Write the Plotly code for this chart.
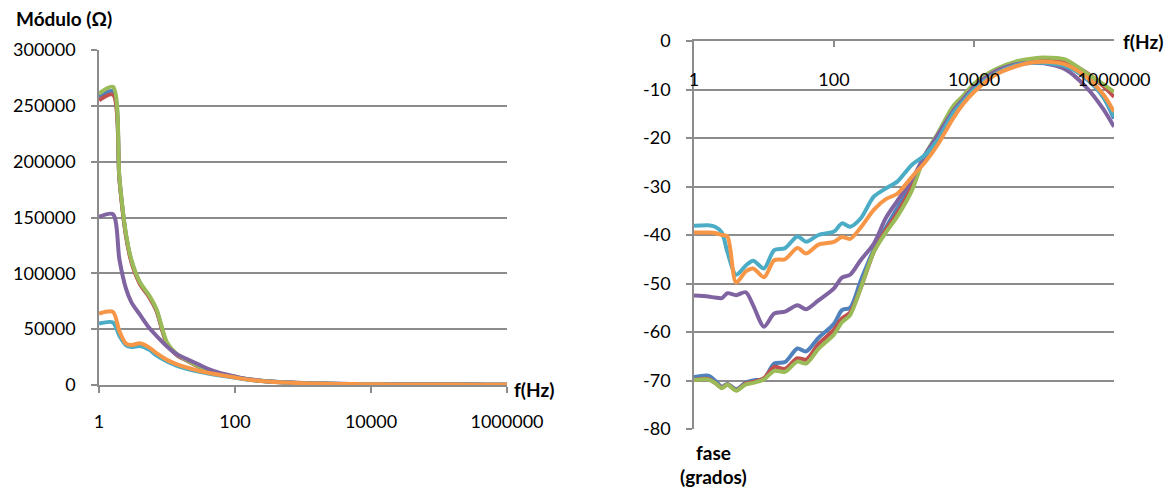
import plotly.graph_objects as go

# Measurement frequencies (Hz)
freq = [1, 1.6, 2, 2.5, 3, 4, 5.5, 7, 10, 14, 20, 30, 40, 60, 100, 130, 170, 240,
        370, 550, 800, 1300, 2000, 3000, 5000, 7000, 10000, 20000, 40000, 70000,
        100000, 200000, 400000, 700000, 1000000]

# Impedance magnitude (ohm) for each sample
mod_s1 = [258000, 263000, 184000, 134000, 111000, 91000, 79000, 67000, 37000, 27000, 21800,
          16300, 13300, 9900, 7300, 5800, 4800, 3800, 2900, 2300, 1900, 1500, 1250, 1050,
          880, 780, 680, 570, 490, 440, 410, 360, 320, 290, 270]
mod_s2 = [255000, 260000, 183000, 133000, 110000, 90500, 78500, 66500, 36500, 26800, 21600,
          16200, 13200, 9800, 7200, 5700, 4700, 3700, 2850, 2250, 1850, 1450, 1200, 1000,
          850, 750, 650, 550, 480, 430, 400, 350, 310, 280, 260]
mod_s3 = [261000, 267000, 185000, 135000, 112000, 92000, 80000, 68000, 38000, 27500, 22000,
          16500, 13500, 10000, 7400, 5900, 4900, 3900, 2950, 2350, 1950, 1550, 1270, 1070,
          900, 790, 690, 580, 500, 450, 420, 370, 330, 300, 280]
mod_s4 = [150500, 153000, 112000, 86000, 74000, 63000, 51000, 44000, 34500, 27500, 23000,
          18000, 14500, 10800, 7600, 6000, 5000, 3900, 3000, 2400, 2000, 1600, 1300, 1100,
          920, 800, 700, 590, 510, 460, 430, 380, 340, 310, 290]
mod_s5 = [55000, 56000, 44000, 35500, 34000, 35000, 31500, 26500, 21000, 17200, 14300,
          11800, 10300, 8500, 6500, 5300, 4400, 3500, 2700, 2150, 1800, 1400, 1150, 980,
          830, 730, 640, 540, 470, 420, 390, 340, 300, 270, 250]
mod_s6 = [64000, 65500, 48000, 37000, 35800, 37300, 33500, 28500, 22500, 18500, 15500,
          12500, 11000, 9000, 6800, 5500, 4500, 3600, 2750, 2200, 1800, 1420, 1170, 1000,
          840, 740, 650, 550, 480, 430, 400, 350, 310, 280, 260]

# Impedance phase (degrees) for each sample
fase_s1 = [-69.3, -69.0, -70.0, -71.3, -70.7, -71.8, -70.4, -70.0, -69.6, -66.5, -66.2,
           -63.4, -64.0, -61.2, -58.3, -55.5, -55.0, -49.5, -43.0, -38.5, -34.5, -29.5,
           -24.0, -19.5, -14.0, -11.5, -9.2, -6.2, -4.8, -4.3, -4.3, -5.0, -7.8, -11.5, -16.0]
fase_s2 = [-69.9, -69.7, -70.5, -71.5, -70.8, -72.0, -70.6, -70.3, -69.5, -67.2, -67.6,
           -65.4, -65.7, -62.5, -59.5, -57.2, -56.0, -51.0, -43.5, -39.0, -35.5, -30.0,
           -23.5, -19.8, -14.2, -11.5, -9.0, -6.0, -4.5, -3.9, -3.8, -4.2, -6.5, -9.3, -11.5]
fase_s3 = [-69.9, -69.8, -70.5, -71.6, -70.9, -72.1, -70.8, -70.5, -69.8, -68.0, -68.2,
           -66.1, -66.5, -63.5, -60.5, -58.0, -56.5, -51.0, -43.5, -39.5, -36.2, -30.8,
           -23.5, -19.2, -13.5, -11.3, -8.8, -5.9, -4.2, -3.6, -3.4, -3.8, -6.6, -8.9, -10.5]
fase_s4 = [-52.5, -52.7, -52.9, -53.0, -52.0, -52.4, -51.8, -54.5, -58.9, -56.2, -55.8,
           -54.5, -55.3, -53.5, -51.0, -48.8, -48.2, -45.2, -41.8, -36.5, -33.0, -28.5,
           -23.5, -19.5, -14.5, -12.0, -9.5, -6.3, -4.8, -4.5, -4.6, -5.8, -9.5, -14.0, -17.7]
fase_s5 = [-38.1, -38.0, -38.3, -39.5, -43.5, -48.2, -46.3, -45.3, -46.9, -43.1, -42.7,
           -40.3, -41.4, -40.0, -39.3, -37.6, -38.3, -36.6, -32.1, -30.4, -29.0, -25.5,
           -23.5, -20.5, -15.0, -12.5, -10.0, -6.8, -5.0, -4.5, -4.5, -5.2, -7.6, -11.5, -15.6]
fase_s6 = [-39.5, -39.5, -39.6, -40.0, -40.3, -49.8, -47.5, -46.9, -48.7, -45.2, -45.0,
           -42.7, -43.8, -42.0, -41.4, -40.4, -40.8, -38.5, -34.8, -32.6, -31.5, -28.0,
           -25.0, -21.5, -16.0, -13.0, -10.5, -7.0, -5.2, -4.4, -4.3, -4.8, -7.4, -11.0, -14.6]

colors = ["#4F81BD", "#C0504D", "#9BBB59", "#8064A2", "#4BACC6", "#F79646"]
mod_series = [mod_s1, mod_s2, mod_s3, mod_s4, mod_s5, mod_s6]
fase_series = [fase_s1, fase_s2, fase_s3, fase_s4, fase_s5, fase_s6]

x_ticks = [1, 100, 10000, 1000000]
x_ticktext = ["1", "100", "10000", "1000000"]
mod_ticks = [0, 50000, 100000, 150000, 200000, 250000, 300000]
fase_ticks = [0, -10, -20, -30, -40, -50, -60, -70, -80]

W, H = 1174, 492
FONT = "Lato"
GRID = "#8C8C8C"


def px_x(p):
    return p / W


def px_y(p):
    return 1 - p / H


fig = go.Figure()

for vals, col in zip(mod_series, colors):
    fig.add_trace(go.Scatter(x=freq, y=vals, mode="lines", xaxis="x", yaxis="y",
                             line=dict(color=col, width=4, shape="spline", smoothing=0.8),
                             showlegend=False, hoverinfo="skip"))

for vals, col in zip(fase_series, colors):
    fig.add_trace(go.Scatter(x=freq, y=vals, mode="lines", xaxis="x2", yaxis="y2",
                             line=dict(color=col, width=4, shape="spline", smoothing=0.8),
                             showlegend=False, hoverinfo="skip"))

axis_common = dict(showline=True, linecolor=GRID, linewidth=1.5, ticklen=6,
                   tickcolor=GRID, tickwidth=1.5, zeroline=False, automargin=False,
                   tickfont=dict(family=FONT, size=18, color="#000000"))

fig.update_layout(
    template="none",
    width=W, height=H,
    margin=dict(l=0, r=0, t=0, b=0, pad=0),
    paper_bgcolor="white", plot_bgcolor="white",
    font=dict(family=FONT, size=18, color="#000000"),
    xaxis=dict(type="log", range=[0, 6], domain=[px_x(99), px_x(507)], anchor="y",
               tickvals=x_ticks, ticktext=x_ticktext, ticks="outside", showgrid=False,
               ticklabelstandoff=14, **axis_common),
    yaxis=dict(range=[0, 300000], domain=[px_y(385), px_y(50)], anchor="x",
               tickvals=mod_ticks, ticktext=[str(v) for v in mod_ticks],
               ticks="outside", showgrid=True, gridcolor=GRID, gridwidth=1.5,
               ticklabelstandoff=12, **axis_common),
    xaxis2=dict(type="log", range=[0, 6], domain=[px_x(694), px_x(1114)], anchor="y2",
                side="top", tickvals=x_ticks, ticktext=x_ticktext, ticks="inside",
                ticklabelposition="inside", ticklabeloverflow="allow",
                ticklabelstandoff=27, showgrid=False, **axis_common),
    yaxis2=dict(range=[-80, 0], domain=[px_y(429), px_y(41)], anchor="x2",
                tickvals=fase_ticks, ticktext=[str(v) for v in fase_ticks],
                ticks="outside", showgrid=True, gridcolor=GRID, gridwidth=1.5,
                ticklabelstandoff=12, **axis_common),
)

bold = dict(family=FONT, size=19, color="#000000")
annotations = [
    dict(text="<b>Módulo (Ω)</b>", x=px_x(14), y=px_y(19), xanchor="left", yanchor="middle"),
    dict(text="<b>f(Hz)</b>", x=px_x(512), y=px_y(389), xanchor="left", yanchor="middle"),
    dict(text="<b>f(Hz)</b>", x=px_x(1121), y=px_y(41), xanchor="left", yanchor="middle"),
    dict(text="<b>fase</b>", x=px_x(713), y=px_y(452), xanchor="center", yanchor="middle"),
    dict(text="<b>(grados)</b>", x=px_x(713), y=px_y(476), xanchor="center", yanchor="middle"),
]
for a in annotations:
    fig.add_annotation(xref="paper", yref="paper", showarrow=False, font=bold, **a)

fig.write_html("out.html")
